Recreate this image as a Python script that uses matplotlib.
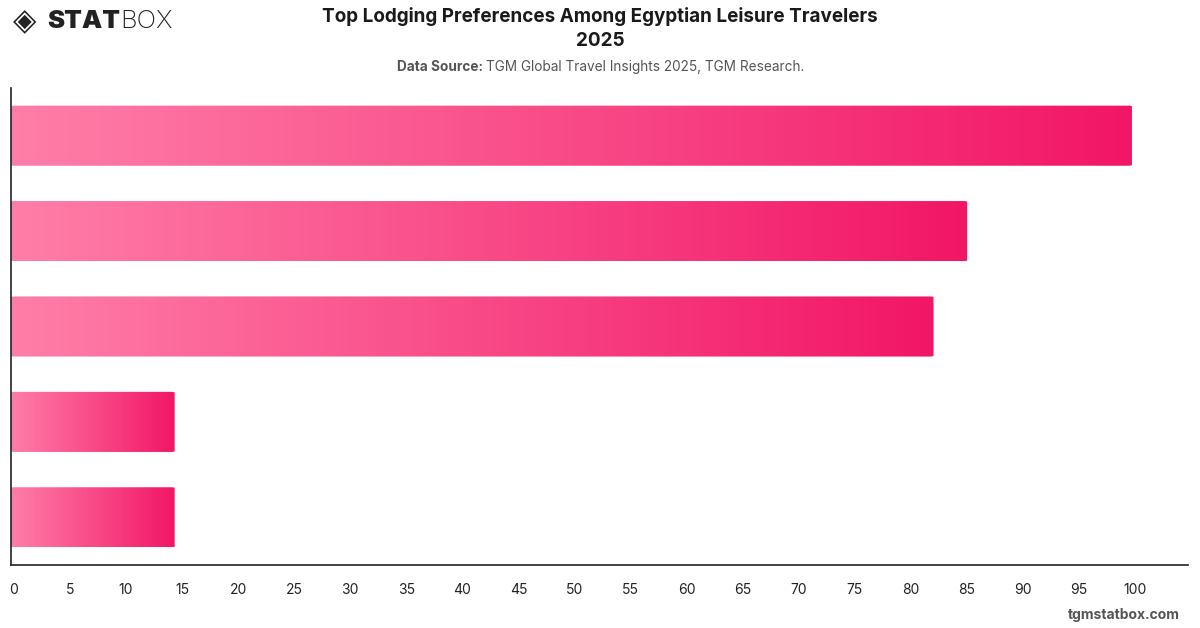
import numpy as np
import matplotlib
matplotlib.use("Agg")
import matplotlib.pyplot as plt
from matplotlib.colors import LinearSegmentedColormap
from matplotlib.patches import FancyBboxPatch
import matplotlib.transforms as mtransforms

plt.rcParams['font.family'] = ['Inter', 'DejaVu Sans']

categories = ["Hotels", "Resorts", "Vacation Rentals", "Hostels", "Other"]
values = [100.0, 85.3, 82.3, 14.6, 14.6]
xticks = list(range(0, 101, 5))

fig = plt.figure(figsize=(12, 6.28), dpi=100)
ax = fig.add_axes([11/1200, 1-565/628, (1188-11)/1200, (565-88)/628])

cmap = LinearSegmentedColormap.from_list("pinkgrad", ["#FF7EA8", "#F21667"])
ypos = np.arange(len(categories))
bars = ax.barh(ypos, values, height=0.63, color="none", edgecolor="none")
ax.set_xlim(0, 105)
ax.set_ylim(len(categories)-0.5, -0.5)

grad = np.linspace(0, 1, 256).reshape(1, -1)
for b in bars:
    x0, y0, w, h = b.get_x(), b.get_y(), b.get_width(), b.get_height()
    patch = FancyBboxPatch((x0, y0), w, h, boxstyle="round,pad=0,rounding_size=0.35",
                           mutation_aspect=h/0.35*0.012, transform=ax.transData,
                           facecolor="none", edgecolor="none")
    ax.add_patch(patch)
    im = ax.imshow(grad, cmap=cmap, aspect="auto", extent=(x0, x0+w, y0+h, y0),
                   interpolation="bicubic", zorder=2)
    im.set_clip_path(patch)

ax.set_ylim(len(categories)-0.5, -0.5)
ax.set_xlim(0, 105)
ax.set_xticks(xticks)
ax.set_xticklabels([str(t) for t in xticks])
ax.set_yticks([])
ax.tick_params(axis='x', length=0, pad=13, labelsize=10, labelcolor="#222222")
offset = mtransforms.ScaledTranslation(3/100, 0, fig.dpi_scale_trans)
for lbl in ax.get_xticklabels():
    lbl.set_transform(lbl.get_transform() + offset)
for s in ["top", "right"]:
    ax.spines[s].set_visible(False)
for s in ["left", "bottom"]:
    ax.spines[s].set_color("#222222")
    ax.spines[s].set_linewidth(1.2)

fig.text(0.5, 1-17/628, "Top Lodging Preferences Among Egyptian Leisure Travelers",
         ha="center", va="center", fontsize=13.6, fontweight="bold", color="#1a1a1a")
fig.text(0.5, 1-41/628, "2025", ha="center", va="center", fontsize=13.6,
         fontweight="bold", color="#1a1a1a")
t1 = fig.text(0.5, 1-67/628, "Data Source: TGM Global Travel Insights 2025, TGM Research.",
              ha="center", va="center", fontsize=9.8, color="#555555", alpha=0)
fig.canvas.draw()
bb = t1.get_window_extent()
left = bb.x0 / 1200
tb = fig.text(left, 1-67/628, "Data Source:", ha="left", va="center", fontsize=9.8,
              fontweight="bold", color="#555555")
fig.canvas.draw()
bb2 = tb.get_window_extent()
fig.text(bb2.x1/1200 + 3/1200, 1-67/628, "TGM Global Travel Insights 2025, TGM Research.",
         ha="left", va="center", fontsize=9.8, color="#555555")

# logo
fig.text(13/1200, 1-22/628, "◈", ha="left", va="center", fontsize=22, color="#222222",
         family=["DejaVu Sans"])
st = fig.text(47/1200, 1-22/628, "STAT", ha="left", va="center", fontsize=18.5,
              fontweight="black", color="#222222")
fig.canvas.draw()
bb3 = st.get_window_extent()
fig.text(bb3.x1/1200, 1-22/628, "BOX", ha="left", va="center", fontsize=18.5,
         fontweight="light", color="#222222")

fig.text(1180/1200, 1-615/628, "tgmstatbox.com", ha="right", va="center", fontsize=10,
         fontweight="bold", color="#555555")

fig.savefig("out.png", dpi=100)
